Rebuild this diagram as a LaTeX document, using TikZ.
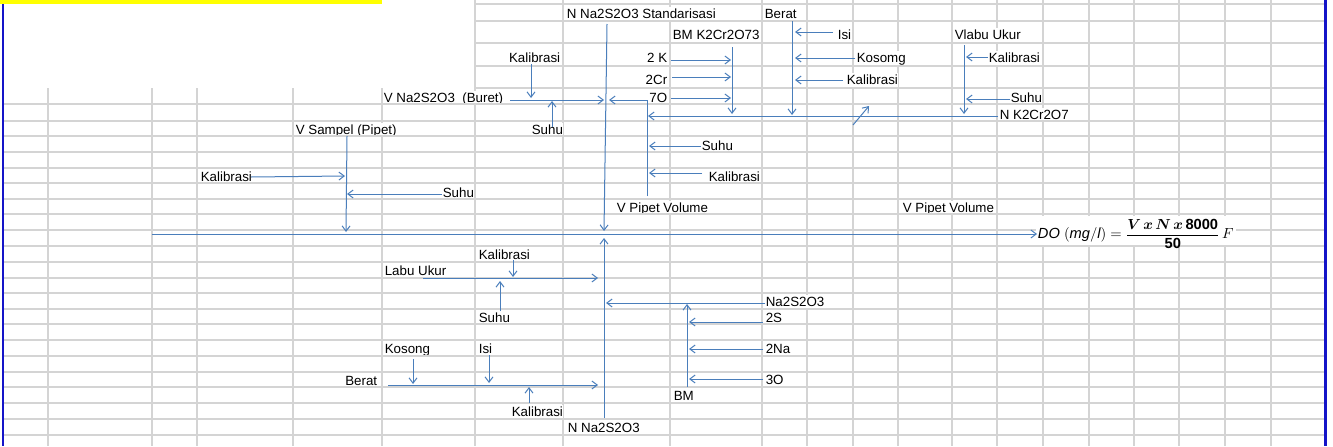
\documentclass[tikz,border=0pt]{standalone}
\usepackage{amsmath}
\usepackage{bm}
\usepackage{fontspec}
\setmainfont{Liberation Sans}
\usetikzlibrary{arrows.meta}
\definecolor{arrowblue}{RGB}{74,126,187}
\definecolor{gridgray}{RGB}{212,212,212}
\definecolor{borderblue}{RGB}{20,20,200}
\definecolor{xlyellow}{RGB}{255,255,0}
\begin{document}
\begin{tikzpicture}[x=0.75pt,y=-0.75pt,
  gridline/.style={draw=gridgray,line width=0.9pt},
  lbl/.style={font=\fontsize{10}{12}\selectfont, inner xsep=0.4pt, inner ysep=0pt, text height=8.4pt, text depth=2.2pt, fill=white},
  lw/.style={lbl, anchor=base west},
  le/.style={lbl, anchor=base east},
  conn/.style={draw=arrowblue, line width=0.75pt},
  arr/.style={conn, -{Straight Barb[length=4pt,width=6pt]}},
  formula/.style={font=\fontsize{11}{13}\selectfont, anchor=west, inner xsep=0.5pt, inner ysep=1pt}
]
\useasboundingbox (0,0) rectangle (1333,446);
\fill[white] (0,0) rectangle (1333,446);
% yellow title bar
\fill[xlyellow] (0,0) rectangle (382,4);
% vertical grid lines
\foreach \x in {48,152,197,293,382} \draw[gridline] (\x,88) -- (\x,446);
\foreach \x in {475,563,670,762,807,853,898,952,997,1043,1089,1134,1179,1225,1271} \draw[gridline] (\x,0) -- (\x,446);

% labels
\node[lw] (stand) at (566,18) {N Na2S2O3 Standarisasi};
\node[lw] (berat1) at (764,18) {Berat};
\node[lw] (bmk) at (672,39) {BM K2Cr2O73};
\node[lw] (isi1) at (837,39) {Isi};
\node[lw] (vlabu) at (954,39) {Vlabu Ukur};
\node[le] (kal1) at (561,62) {Kalibrasi};
\node[le] (k2) at (668,62) {2 K};
\node[lw] (kosomg) at (856,62) {Kosomg};
\node[lw] (kal2) at (988,62) {Kalibrasi};
\node[le] (cr2) at (668,84) {2Cr};
\node[lw] (kal3) at (846,84) {Kalibrasi};
\node[lw] (buret) at (383,102) {V Na2S2O3\ \ (Buret)};
\node[le] (o7) at (668,102) {7O};
\node[lw] (suhu1) at (1010,102) {Suhu};
\node[lw] (nk2) at (999,119) {N K2Cr2O7};
\node[lw] (vsampel) at (295,134) {V Sampel (Pipet)};
\node[lw] (suhu2) at (531,134) {Suhu};
\node[lw] (suhu3) at (701,150) {Suhu};
\node[lw] (kal4) at (200,181) {Kalibrasi};
\node[lw] (kal5) at (708,181) {Kalibrasi};
\node[lw] (suhu4) at (442,197) {Suhu};
\node[lw] (vpip1) at (616,212) {V Pipet Volume};
\node[lw] (vpip2) at (902,212) {V Pipet Volume};
\node[lw] (kal6) at (478,259) {Kalibrasi};
\node[lw] (labu) at (384,275) {Labu Ukur};
\node[lw] (na2s2o3) at (765,306) {Na2S2O3};
\node[lw] (suhu5) at (478,322) {Suhu};
\node[lw] (s2) at (765,322) {2S};
\node[lw] (kosong) at (384,353) {Kosong};
\node[lw] (isi2) at (478,353) {Isi};
\node[lw] (na2) at (765,353) {2Na};
\node[le] (berat2) at (378,385) {Berat};
\node[lw] (o3) at (765,384) {3O};
\node[lw] (bm) at (673,400) {BM};
\node[lw] (kal7) at (511,416) {Kalibrasi};
\node[lw] (nna) at (567,432) {N Na2S2O3};

% horizontal grid lines
\foreach \y in {4,21,43,66,88} \draw[gridline] (475,\y) -- (1325,\y);
\foreach \y in {104,121,136,152,168,183,199,214,230,246,262,278,293,309,324,340,356,372,387,403,419,435} \draw[gridline] (3,\y) -- (1325,\y);

% formula (equation object with white background)
\fill[white] (1036,215.5) rectangle (1236,245.3);
\node[formula] (do) at (1037,234) {$\mathit{DO}\ (\mathit{mg/l}) = \dfrac{\bm{V\mkern3mu x\mkern3mu N\mkern3mu x}\mkern3mu\textbf{8000}}{\textbf{50}}\,F$};

% borders
\draw[borderblue, line width=1.6pt] (3,4) -- (3,446);
\draw[borderblue, line width=2.2pt] (1325.5,0) -- (1325.5,446);

% ---------- connectors: upper half ----------
\coordinate (sT) at (607,24);
\coordinate (sB) at (604,231);
\draw[arr] (sT) -- (sB);
\coordinate (mainL) at (152,234);
\draw[arr] (mainL) -- (do.west);

\coordinate (bu1) at (510,100); \coordinate (bu2) at (604,100);
\draw[arr] (bu1) -- (bu2);
\coordinate (k1a) at (531,64); \coordinate (k1b) at (531,98);
\draw[arr] (k1a) -- (k1b);
\coordinate (s2a) at (552,127); \coordinate (s2b) at (552,101);
\draw[arr] (s2a) -- (s2b);

\coordinate (vp1a) at (647,196); \coordinate (vp1b) at (647,100); \coordinate (vp1c) at (609,100);
\draw[arr] (vp1a) -- (vp1b) -- (vp1c);
\coordinate (nkA) at (998,116); \coordinate (nkB) at (648,116);
\draw[arr] (nkA) -- (nkB);
\coordinate (s3a) at (701,146); \coordinate (s3b) at (649,146);
\draw[arr] (s3a) -- (s3b);
\coordinate (k5a) at (702,173); \coordinate (k5b) at (649,173);
\draw[arr] (k5a) -- (k5b);

\coordinate (bmT) at (732,47); \coordinate (bmB) at (732,114);
\draw[arr] (bmT) -- (bmB);
\coordinate (k2a) at (671,60); \coordinate (k2b) at (731,60);
\draw[arr] (k2a) -- (k2b);
\coordinate (cra) at (672,77); \coordinate (crb) at (731,77);
\draw[arr] (cra) -- (crb);
\coordinate (o7a) at (671,98); \coordinate (o7b) at (731,98);
\draw[arr] (o7a) -- (o7b);

\coordinate (beT) at (792,21); \coordinate (beB) at (792,115);
\draw[arr] (beT) -- (beB);
\coordinate (i1a) at (833,32); \coordinate (i1b) at (795,32);
\draw[arr] (i1a) -- (i1b);
\coordinate (koa) at (855,58); \coordinate (kob) at (795,58);
\draw[arr] (koa) -- (kob);
\coordinate (k3a) at (843,80); \coordinate (k3b) at (795,80);
\draw[arr] (k3a) -- (k3b);

\coordinate (vlT) at (964,45); \coordinate (vlB) at (964,114);
\draw[arr] (vlT) -- (vlB);
\coordinate (k2ra) at (988,57); \coordinate (k2rb) at (966,57);
\draw[arr] (k2ra) -- (k2rb);
\coordinate (s1a) at (1010,99); \coordinate (s1b) at (966,99);
\draw[arr] (s1a) -- (s1b);

\coordinate (dgA) at (853,125); \coordinate (dgB) at (869,106);
\draw[arr] (dgA) -- (dgB);

\coordinate (vsT) at (347,136); \coordinate (vsB) at (346,232);
\draw[arr] (vsT) -- (vsB);
\coordinate (k4a) at (251,177); \coordinate (k4b) at (345,176);
\draw[arr] (k4a) -- (k4b);
\coordinate (s4a) at (442,194); \coordinate (s4b) at (347,194);
\draw[arr] (s4a) -- (s4b);

% ---------- connectors: lower half ----------
\coordinate (nnB) at (604,418); \coordinate (nnT) at (604,238);
\draw[arr] (nnB) -- (nnT);
\coordinate (lbA) at (423,278); \coordinate (lbB) at (598,278);
\draw[arr] (lbA) -- (lbB);
\coordinate (k6a) at (513,260); \coordinate (k6b) at (513,277);
\draw[arr] (k6a) -- (k6b);
\coordinate (s5a) at (500,311); \coordinate (s5b) at (500,281);
\draw[arr] (s5a) -- (s5b);
\coordinate (brA) at (388,385); \coordinate (brB) at (598,385);
\draw[arr] (brA) -- (brB);
\coordinate (ksa) at (413,359); \coordinate (ksb) at (413,384);
\draw[arr] (ksa) -- (ksb);
\coordinate (i2a) at (489,355); \coordinate (i2b) at (489,383);
\draw[arr] (i2a) -- (i2b);
\coordinate (k7a) at (529,403); \coordinate (k7b) at (529,387);
\draw[arr] (k7a) -- (k7b);
\coordinate (naA) at (765,303); \coordinate (naB) at (606,303);
\draw[arr] (naA) -- (naB);
\coordinate (bmvB) at (687,387); \coordinate (bmvT) at (687,304);
\draw[arr] (bmvB) -- (bmvT);
\coordinate (s2sa) at (763,322); \coordinate (s2sb) at (689,322);
\draw[arr] (s2sa) -- (s2sb);
\coordinate (n2a) at (763,349); \coordinate (n2b) at (689,349);
\draw[arr] (n2a) -- (n2b);
\coordinate (o3a) at (763,379); \coordinate (o3b) at (689,379);
\draw[arr] (o3a) -- (o3b);
\end{tikzpicture}
\end{document}
